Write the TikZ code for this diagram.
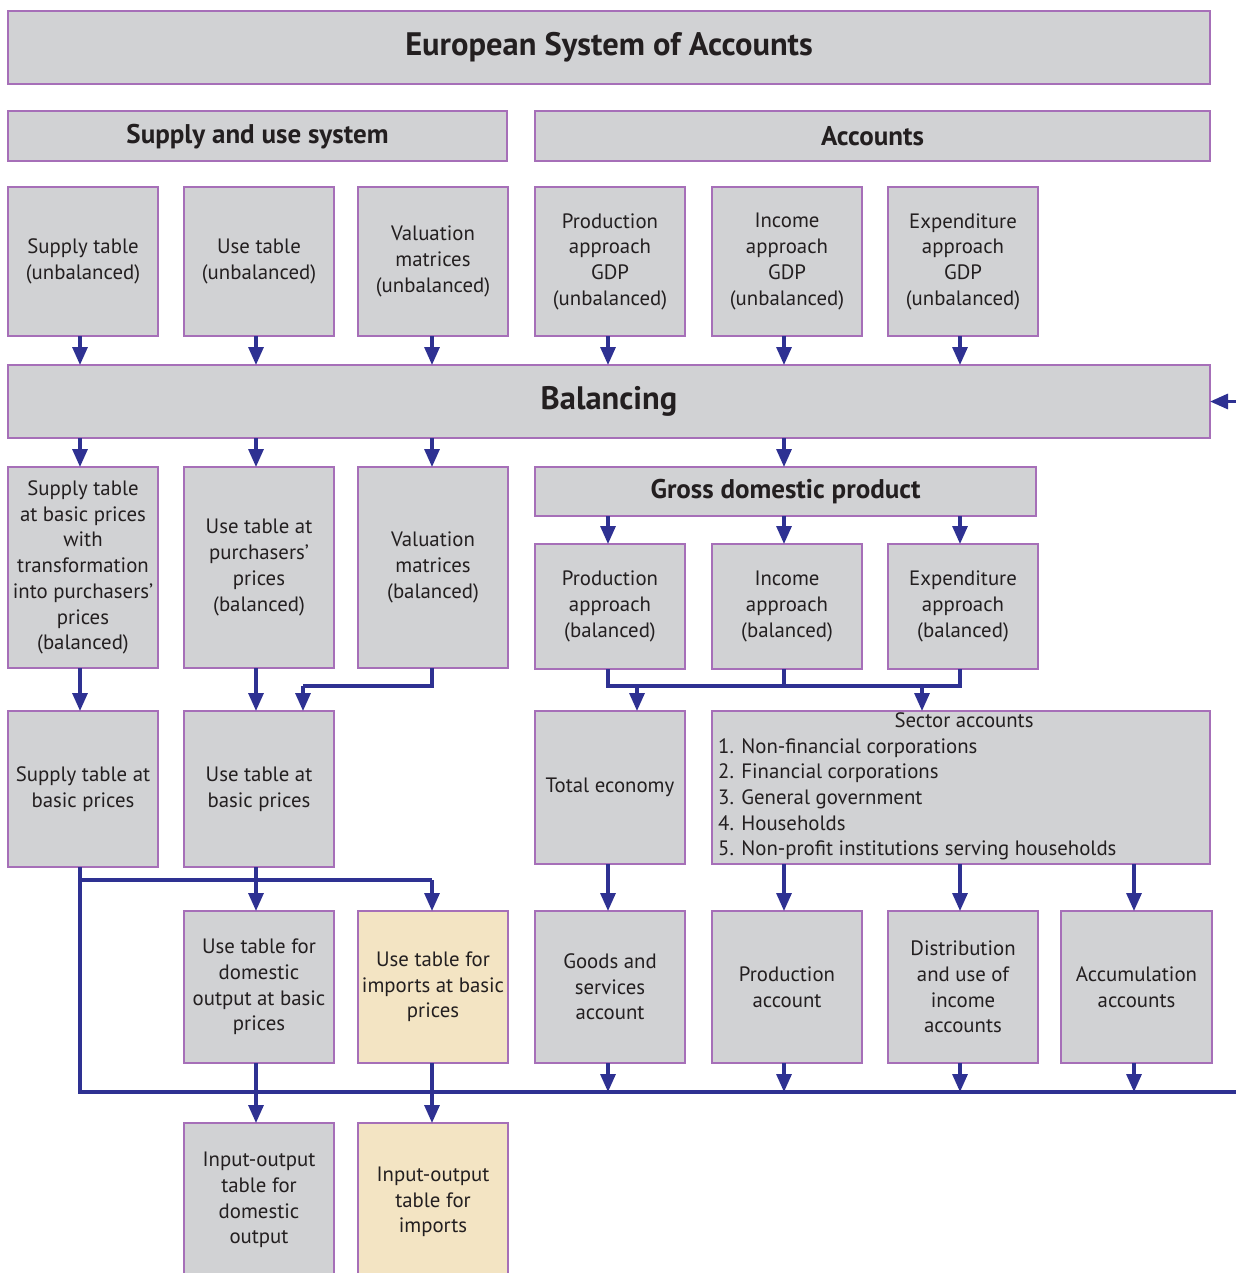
\documentclass[tikz,border=0pt]{standalone}
\usepackage{fontspec}
\setmainfont{PT Sans}
\usetikzlibrary{arrows.meta}

\definecolor{boxgray}{HTML}{D1D2D4}
\definecolor{boxedge}{HTML}{A66FB8}
\definecolor{flow}{HTML}{2E3192}
\definecolor{beige}{HTML}{F3E4C3}
\definecolor{ink}{HTML}{231F20}

\tikzset{
  box/.style={draw=boxedge, fill=boxgray, line width=1.3pt, anchor=north west,
    inner sep=0pt, outer sep=0pt, align=center, text=ink,
    font=\fontsize{20.8}{25.7}\selectfont},
  importbox/.style={box, fill=beige},
  headbox/.style={box, font=\fontsize{27}{31}\selectfont\bfseries},
  flowline/.style={draw=flow, line width=3.2pt},
  arr/.style={flowline, -{Triangle[width=15pt,length=18pt]}},
}

\begin{document}
\begin{tikzpicture}[x=1pt, y=-1pt]
\useasboundingbox (0,0) rectangle (1235,1273);

% column positions of the connectors
\coordinate (c1) at (80,0);
\coordinate (c2) at (256,0);
\coordinate (c3) at (432,0);
\coordinate (c4) at (608,0);
\coordinate (c5) at (784,0);
\coordinate (c6) at (960,0);
\coordinate (c7) at (1134,0);
\coordinate (cv) at (303,0);
\coordinate (ct) at (637,0);
\coordinate (cs) at (922,0);
\coordinate (jv) at (0,686);
\coordinate (ju) at (0,880);
\coordinate (jb) at (0,1092);
\coordinate (edge) at (1240,0);

% headings
\node[headbox, minimum width=1202pt, minimum height=73pt, font=\fontsize{32.5}{36}\selectfont\bfseries] (esa) at (8,11) {European System of Accounts};
\node[headbox, minimum width=499pt, minimum height=50pt, text depth=5pt] (sus) at (8,111) {Supply and use system};
\node[headbox, minimum width=675pt, minimum height=50pt] (acc) at (535,111) {Accounts};

% unbalanced inputs
\node[box, minimum width=150pt, minimum height=149pt] (st) at (8,187) {Supply table\\(unbalanced)};
\node[box, minimum width=150pt, minimum height=149pt] (ut) at (184,187) {Use table\\(unbalanced)};
\node[box, minimum width=150pt, minimum height=149pt] (vm) at (358,187) {Valuation\\matrices\\(unbalanced)};
\node[box, minimum width=150pt, minimum height=149pt] (pa) at (535,187) {Production\\approach\\GDP\\(unbalanced)};
\node[box, minimum width=150pt, minimum height=149pt] (ia) at (712,187) {Income\\approach\\GDP\\(unbalanced)};
\node[box, minimum width=150pt, minimum height=149pt] (ea) at (888,187) {Expenditure\\approach\\GDP\\(unbalanced)};

\node[headbox, minimum width=1202pt, minimum height=73pt, font=\fontsize{32.5}{36}\selectfont\bfseries] (bal) at (8,365) {Balancing};

% balanced tables
\node[box, minimum width=150pt, minimum height=201pt] (stb) at (8,467) {Supply table\\at basic prices\\with\\transformation\\into purchasers’\\prices\\(balanced)};
\node[box, minimum width=150pt, minimum height=201pt] (utb) at (184,467) {Use table at\\purchasers’\\prices\\(balanced)};
\node[box, minimum width=150pt, minimum height=201pt] (vmb) at (358,467) {Valuation\\matrices\\(balanced)};

\node[headbox, minimum width=501pt, minimum height=49pt] (gdp) at (535,467) {Gross domestic product};
\node[box, minimum width=150pt, minimum height=125pt] (pab) at (535,544) {Production\\approach\\(balanced)};
\node[box, minimum width=150pt, minimum height=125pt] (iab) at (712,544) {Income\\approach\\(balanced)};
\node[box, minimum width=150pt, minimum height=125pt] (eab) at (888,544) {Expenditure\\approach\\(balanced)};

% basic prices and accounts
\node[box, minimum width=150pt, minimum height=156pt] (sbp) at (8,711) {Supply table at\\basic prices};
\node[box, minimum width=150pt, minimum height=156pt] (ubp) at (184,711) {Use table at\\basic prices};
\node[box, minimum width=150pt, minimum height=153pt] (te) at (535,711) {Total economy};
\node[box, minimum width=498pt, minimum height=153pt] (sec) at (712,711) {};
\node[anchor=north, inner sep=0pt, text=ink, font=\fontsize{20.8}{25.7}\selectfont] (sect) at (964,712) {Sector accounts};
\node[anchor=north west, inner sep=0pt, align=left, text=ink, font=\fontsize{20.8}{25.7}\selectfont] (secl) at (718,738) {1. Non-financial corporations\\2. Financial corporations\\3. General government\\4. Households\\5. Non-profit institutions serving households};

\node[box, minimum width=150pt, minimum height=152pt] (udo) at (184,911) {Use table for\\domestic\\output at basic\\prices};
\node[importbox, minimum width=150pt, minimum height=152pt] (uim) at (358,911) {Use table for\\imports at basic\\prices};
\node[box, minimum width=150pt, minimum height=152pt] (gs) at (535,911) {Goods and\\services\\account};
\node[box, minimum width=150pt, minimum height=152pt] (pr) at (712,911) {Production\\account};
\node[box, minimum width=150pt, minimum height=152pt] (du) at (888,911) {Distribution\\and use of\\income\\accounts};
\node[box, minimum width=151pt, minimum height=152pt] (am) at (1061,911) {Accumulation\\accounts};

\node[box, minimum width=150pt, minimum height=170pt, text depth=20pt] (iod) at (184,1123) {Input-output\\table for\\domestic\\output};
\node[importbox, minimum width=150pt, minimum height=170pt, text depth=16pt] (ioi) at (358,1123) {Input-output\\table for\\imports};

% into balancing
\foreach \n/\c in {st/c1, ut/c2, vm/c3, pa/c4, ia/c5, ea/c6}
  \draw[arr] (\n.south -| \c) -- (bal.north -| \c);
% out of balancing
\foreach \n/\c in {stb/c1, utb/c2, vmb/c3, gdp/c5}
  \draw[arr] (bal.south -| \c) -- (\n.north -| \c);
% GDP approaches
\foreach \n/\c in {pab/c4, iab/c5, eab/c6}
  \draw[arr] (gdp.south -| \c) -- (\n.north -| \c);
\draw[flowline] (pab.south -| c4) -- (c4 |- jv) -- (c6 |- jv) -- (eab.south -| c6);
\draw[flowline] (iab.south -| c5) -- (c5 |- jv);
\draw[arr] (ct |- jv) -- (te.north -| ct);
\draw[arr] (cs |- jv) -- (sec.north -| cs);

% supply and use tables at basic prices
\draw[arr] (stb.south -| c1) -- (sbp.north -| c1);
\draw[arr] (utb.south -| c2) -- (ubp.north -| c2);
\draw[flowline] (vmb.south -| c3) -- (c3 |- jv) -- (cv |- jv);
\draw[arr] (cv |- jv) -- (ubp.north -| cv);

\draw[flowline] (c1 |- ju) -- (c3 |- ju);
\draw[arr] (c3 |- ju) -- (uim.north -| c3);
\draw[arr] (ubp.south -| c2) -- (udo.north -| c2);

% accounts
\draw[arr] (te.south -| c4) -- (gs.north -| c4);
\foreach \n/\c in {pr/c5, du/c6, am/c7}
  \draw[arr] (sec.south -| \c) -- (\n.north -| \c);

% feedback loop back to balancing
\draw[flowline] (sbp.south -| c1) -- (c1 |- jb) -- (edge |- jb);
\foreach \n/\c in {gs/c4, pr/c5, du/c6, am/c7}
  \draw[arr] (\n.south -| \c) -- (\c |- jb);
\draw[arr] (edge |- bal.east) -- (bal.east);

% input-output tables
\draw[arr] (udo.south -| c2) -- (iod.north -| c2);
\draw[arr] (uim.south -| c3) -- (ioi.north -| c3);
\end{tikzpicture}
\end{document}
